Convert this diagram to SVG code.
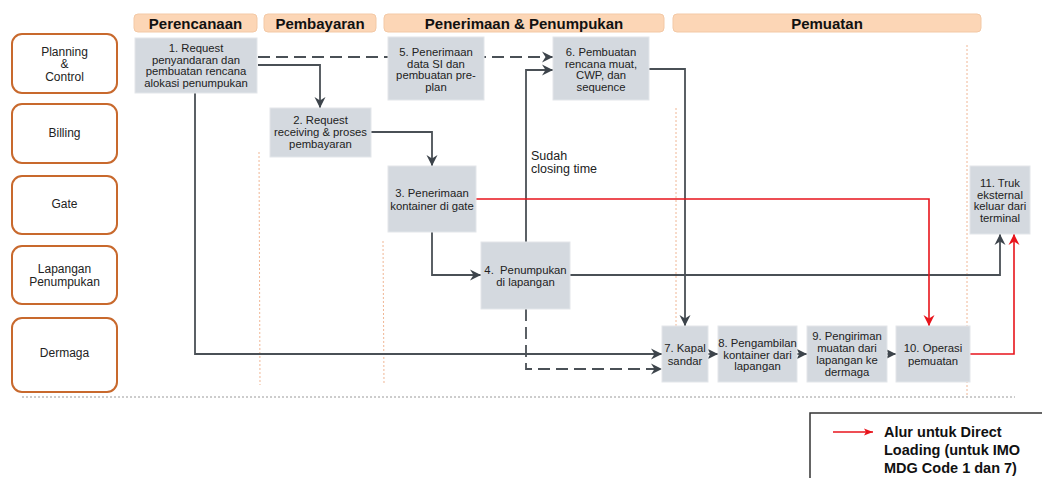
<svg xmlns="http://www.w3.org/2000/svg" width="1042" height="478" viewBox="0 0 1042 478">
<style>
text{font-family:"Liberation Sans",Arial,sans-serif;fill:#222}
.hdr rect{fill:#fcd6b6;stroke:#f3c9a6;stroke-width:1}
.hdr text{font-weight:bold;font-size:15px;text-anchor:middle;fill:#111}
.lane rect{fill:#fff;stroke:#c8692d;stroke-width:2}
.lane text{font-size:12px;text-anchor:middle}
.node rect{fill:#d4d9df;stroke:#e3e6ea;stroke-width:1}
.node text{font-size:11.3px;text-anchor:middle}
.ln{fill:none;stroke:#4a5056;stroke-width:1.8}
.dash{stroke-dasharray:12 6}
.red{fill:none;stroke:#e8141c;stroke-width:1.6}
.vdot{stroke:#f0b694;stroke-width:1;stroke-dasharray:2 2}
.hdot{stroke:#9a9a9a;stroke-width:1;stroke-dasharray:2 2}
.leg{font-size:14.5px;font-weight:bold;fill:#111}
</style>
<defs>
<marker id="ah" markerUnits="userSpaceOnUse" markerWidth="12" markerHeight="12" refX="11" refY="6" orient="auto">
<path d="M0,0.5 L11,6 L0,11.5 L3.5,6 z" fill="#3d444b"/>
</marker>
<marker id="ahr" markerUnits="userSpaceOnUse" markerWidth="12" markerHeight="12" refX="11" refY="6" orient="auto">
<path d="M0,0.5 L11,6 L0,11.5 L3.5,6 z" fill="#e8141c"/>
</marker>
<marker id="ahl" markerUnits="userSpaceOnUse" markerWidth="10" markerHeight="8" refX="9" refY="4" orient="auto">
<path d="M0,0.5 L9,4 L0,7.5 L2,4 z" fill="#e8141c"/>
</marker>
</defs>

<g id="headers" class="hdr">
<rect x="134" y="14" width="123" height="18" rx="4"/><text x="195.5" y="28.5">Perencanaan</text>
<rect x="264" y="14" width="112" height="18" rx="4"/><text x="320" y="28.5">Pembayaran</text>
<rect x="384" y="14" width="280" height="18" rx="4"/><text x="524" y="28.5">Penerimaan &amp; Penumpukan</text>
<rect x="673" y="14" width="308" height="18" rx="4"/><text x="827" y="28.5">Pemuatan</text>
</g>

<g id="guides">
<line class="vdot" x1="259" y1="152" x2="260" y2="385"/>
<line class="vdot" x1="383" y1="241" x2="384" y2="385"/>
<line class="vdot" x1="676" y1="108" x2="676" y2="326"/>
<line class="vdot" x1="967" y1="45" x2="967" y2="395"/>
<line class="hdot" x1="22" y1="397" x2="1015" y2="397"/>
</g>

<g id="lane-planning" class="lane"><rect x="12" y="34" width="105" height="59" rx="10"/>
<text x="64.5" y="56">Planning</text><text x="64.5" y="68">&amp;</text><text x="64.5" y="81">Control</text></g>
<g id="lane-billing" class="lane"><rect x="12" y="104" width="105" height="59" rx="10"/>
<text x="64.5" y="137">Billing</text></g>
<g id="lane-gate" class="lane"><rect x="12" y="176" width="105" height="58" rx="10"/>
<text x="64.5" y="208">Gate</text></g>
<g id="lane-lapangan" class="lane"><rect x="12" y="246" width="105" height="58" rx="10"/>
<text x="64.5" y="273">Lapangan</text><text x="64.5" y="286">Penumpukan</text></g>
<g id="lane-dermaga" class="lane"><rect x="12" y="318" width="105" height="74" rx="10"/>
<text x="64.5" y="357">Dermaga</text></g>

<g id="connectors">
<path class="ln dash" d="M258,57 H553" marker-end="url(#ah)"/>
<path class="ln" d="M258,65 H320 V108" marker-end="url(#ah)"/>
<path class="ln" d="M371,132 H432 V166" marker-end="url(#ah)"/>
<path class="ln" d="M195,93 V354 H662" marker-end="url(#ah)"/>
<path class="ln" d="M432,232 V275 H481" marker-end="url(#ah)"/>
<path class="ln" d="M526,242 V70 H553" marker-end="url(#ah)"/>
<path class="ln" d="M648,69 H685 V326" marker-end="url(#ah)"/>
<path class="ln dash" d="M526,309 V369 H662" marker-end="url(#ah)"/>
<path class="ln" d="M570,275 H1000 V234" marker-end="url(#ah)"/>
<path class="red" d="M476,199 H929 V326" marker-end="url(#ahr)"/>
<path class="red" d="M970,354 H1014 V234" marker-end="url(#ahr)"/>
<path class="ln" d="M706,354 H718" marker-end="url(#ah)"/>
<path class="ln" d="M795,354 H807" marker-end="url(#ah)"/>
<path class="ln" d="M885,354 H896" marker-end="url(#ah)"/>
<text x="531" y="160" style="font-size:12.5px">Sudah</text>
<text x="531" y="173" style="font-size:12.5px">closing time</text>
</g>

<g id="n1" class="node"><rect x="135" y="38" width="122" height="55"/>
<text x="196" y="52">1. Request</text><text x="196" y="63.5">penyandaran dan</text><text x="196" y="75">pembuatan rencana</text><text x="196" y="86.5">alokasi penumpukan</text></g>
<g id="n2" class="node"><rect x="270" y="108" width="101" height="49"/>
<text x="320.5" y="124">2. Request</text><text x="320.5" y="136">receiving &amp; proses</text><text x="320.5" y="148">pembayaran</text></g>
<g id="n5" class="node"><rect x="388" y="37" width="96" height="63"/>
<text x="436" y="56">5. Penerimaan</text><text x="436" y="67.5">data SI dan</text><text x="436" y="79">pembuatan pre-</text><text x="436" y="90.5">plan</text></g>
<g id="n6" class="node"><rect x="553" y="37" width="96" height="63"/>
<text x="601" y="56">6. Pembuatan</text><text x="601" y="67.5">rencana muat,</text><text x="601" y="79">CWP, dan</text><text x="601" y="90.5">sequence</text></g>
<g id="n3" class="node"><rect x="388" y="166" width="88" height="66"/>
<text x="432" y="197">3. Penerimaan</text><text x="432" y="210">kontainer di gate</text></g>
<g id="n4" class="node"><rect x="481" y="242" width="89" height="67"/>
<text x="525.5" y="274" xml:space="preserve">4.  Penumpukan</text><text x="525.5" y="286">di lapangan</text></g>
<g id="n11" class="node"><rect x="970" y="166" width="60" height="68"/>
<text x="1000" y="187">11. Truk</text><text x="1000" y="198.5">eksternal</text><text x="1000" y="210">keluar dari</text><text x="1000" y="221.5">terminal</text></g>
<g id="n7" class="node"><rect x="662" y="326" width="46" height="56"/>
<text x="685" y="352">7. Kapal</text><text x="685" y="365">sandar</text></g>
<g id="n8" class="node"><rect x="718" y="326" width="79" height="56"/>
<text x="757.5" y="347">8. Pengambilan</text><text x="757.5" y="358.5">kontainer dari</text><text x="757.5" y="370">lapangan</text></g>
<g id="n9" class="node"><rect x="807" y="326" width="80" height="56"/>
<text x="847" y="340">9. Pengiriman</text><text x="847" y="352">muatan dari</text><text x="847" y="364">lapangan ke</text><text x="847" y="376">dermaga</text></g>
<g id="n10" class="node"><rect x="896" y="326" width="74" height="56"/>
<text x="933" y="352">10. Operasi</text><text x="933" y="365">pemuatan</text></g>

<g id="legend">
<path d="M810,478 V413 H1042" fill="none" stroke="#333" stroke-width="1.5"/>
<path class="red" d="M833,432 H873" marker-end="url(#ahl)"/>
<text class="leg" x="884" y="437">Alur untuk Direct</text>
<text class="leg" x="884" y="455">Loading (untuk IMO</text>
<text class="leg" x="884" y="473">MDG Code 1 dan 7)</text>
</g>
</svg>
